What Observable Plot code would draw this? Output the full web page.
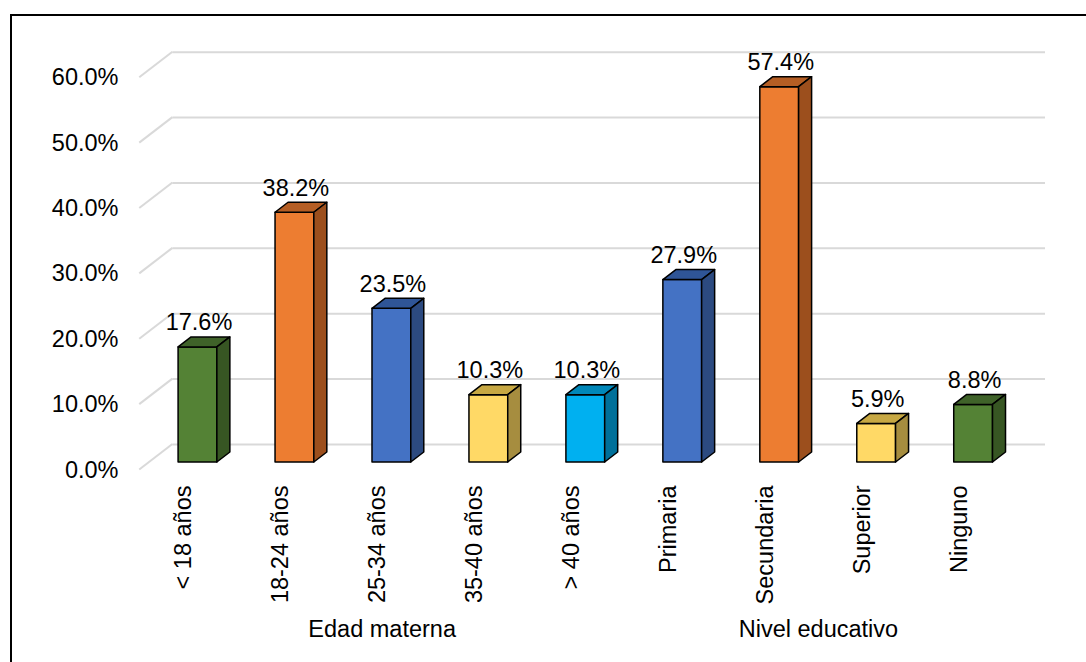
<!DOCTYPE html>
<html>
<head>
<meta charset="utf-8">
<script src="https://cdn.jsdelivr.net/npm/d3@7"></script>
<script src="https://cdn.jsdelivr.net/npm/@observablehq/plot@0.6"></script>
<style>
  html, body { margin: 0; padding: 0; background: #fff; }
  #wrap { position: relative; width: 1086px; height: 662px; overflow: hidden; }
  #border { position: absolute; left: 10px; top: 14px; width: 1200px; height: 800px; border-left: 2px solid #000; border-top: 2px solid #000; }
  #chart svg { display: block; }
</style>
</head>
<body>
<div id="wrap">
  <div id="chart"></div>
  <div id="border"></div>
</div>
<script>
// Categories and their percentages
const categories = ["< 18 años", "18-24 años", "25-34 años", "35-40 años", "> 40 años",
                    "Primaria", "Secundaria", "Superior", "Ninguno"];
const values = [17.6, 38.2, 23.5, 10.3, 10.3, 27.9, 57.4, 5.9, 8.8];
const groups = ["Edad materna", "Edad materna", "Edad materna", "Edad materna", "Edad materna",
                "Nivel educativo", "Nivel educativo", "Nivel educativo", "Nivel educativo"];
const yTicks = [0, 10, 20, 30, 40, 50, 60];

// Face colours of each bar: front, top and right side
const frontColors = ["#548235", "#ED7D31", "#4472C4", "#FFD966", "#00B0F0", "#4472C4", "#ED7D31", "#FFD966", "#548235"];
const shades = {
  "#548235": {top: "#3F6229", side: "#375623"},
  "#ED7D31": {top: "#B55E24", side: "#9C4F1D"},
  "#4472C4": {top: "#2F5597", side: "#2C4A80"},
  "#FFD966": {top: "#C7A843", side: "#A68D3F"},
  "#00B0F0": {top: "#0087B9", side: "#00709A"}
};

const data = categories.map((name, i) => ({
  i, name, value: values[i], group: groups[i],
  fill: frontColors[i], top: shades[frontColors[i]].top, side: shades[frontColors[i]].side
}));

const groupLabels = Array.from(d3.group(data, d => d.group), ([name, rows]) => ({
  name, center: d3.mean(rows, d => d.i)
}));

const FONT = 23.5;

// 3-D look: depth of the bars and of the floor/back wall, in pixels
const HALF = 0.2;                 // half bar width, in category units
const BAR_DX = 13, BAR_DY = 10;   // bar depth
const FRONT_DX = -9.75, FRONT_DY = 7.5;  // floor front edge vs bar plane
const BACK_DX = 23.4, BACK_DY = -18;     // back wall vs bar plane

// Diagonal part of the gridlines on the left wall
function wallLines(ticks) {
  return (index, {x, y}) => {
    const g = d3.create("svg:g").attr("stroke", "#D9D9D9").attr("stroke-width", 2).attr("fill", "none");
    const x0 = x(-0.5);
    for (const t of ticks) {
      g.append("path").attr("d", `M${x0 + FRONT_DX},${y(t) + FRONT_DY}L${x0 + BACK_DX},${y(t) + BACK_DY}`);
    }
    return g.node();
  };
}

// Top and side faces of the bars
function barFaces(rows) {
  return (index, {x, y}) => {
    const g = d3.create("svg:g").attr("stroke", "#000").attr("stroke-width", 1.5).attr("stroke-linejoin", "round");
    for (const d of rows) {
      const x0 = x(d.i - HALF), x1 = x(d.i + HALF), y0 = y(0), y1 = y(d.value);
      g.append("path").attr("fill", d.top)
        .attr("d", `M${x0},${y1}L${x0 + BAR_DX},${y1 - BAR_DY}L${x1 + BAR_DX},${y1 - BAR_DY}L${x1},${y1}Z`);
      g.append("path").attr("fill", d.side)
        .attr("d", `M${x1},${y1}L${x1 + BAR_DX},${y1 - BAR_DY}L${x1 + BAR_DX},${y0 - BAR_DY}L${x1},${y0}Z`);
    }
    return g.node();
  };
}

const chart = Plot.plot({
  width: 1086,
  height: 662,
  marginLeft: 149,
  marginRight: 64.4,
  marginTop: 69.7,
  marginBottom: 200,
  style: {fontFamily: "'Liberation Sans', Arial, sans-serif", fontSize: FONT + "px", color: "#000", background: "transparent"},
  x: {type: "linear", domain: [-0.5, 8.5], axis: null},
  y: {domain: [0, 60], axis: null},
  marks: [
    Plot.ruleY(yTicks, {stroke: "#D9D9D9", strokeWidth: 2, strokeOpacity: 1, dx: BACK_DX, dy: BACK_DY}),
    wallLines(yTicks),
    Plot.axisY(yTicks, {
      anchor: "left", label: null, tickSize: 0, tickPadding: 31, dy: FRONT_DY,
      tickFormat: d => d.toFixed(1) + "%", fontSize: FONT, fill: "#000"
    }),
    Plot.rectY(data, {
      x1: d => d.i - HALF, x2: d => d.i + HALF, y: "value",
      fill: "fill", stroke: "#000", strokeWidth: 1.5, strokeLinejoin: "round", inset: 0
    }),
    barFaces(data),
    Plot.text(data, {
      x: "i", y: "value", text: d => d.value.toFixed(1) + "%",
      dx: 1, dy: -24.6, fontSize: FONT, fill: "#000"
    }),
    Plot.text(data, {
      x: "i", text: "name", frameAnchor: "bottom", rotate: -90, textAnchor: "end",
      dx: -7, dy: 23, fontSize: FONT, fill: "#000"
    }),
    Plot.text(groupLabels, {
      x: "center", text: "name", frameAnchor: "bottom",
      dx: FRONT_DX, dy: 174.5, fontSize: FONT, fill: "#000"
    })
  ]
});

document.getElementById("chart").appendChild(chart);
</script>
</body>
</html>
